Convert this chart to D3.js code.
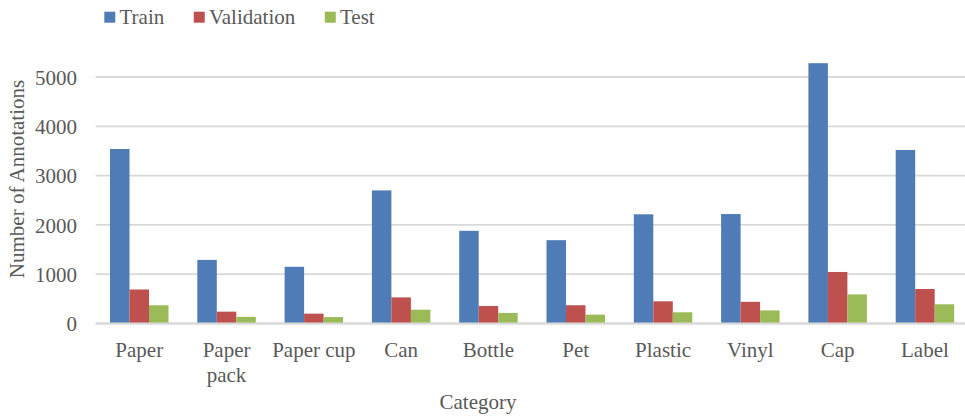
<!DOCTYPE html>
<html>
<head>
<meta charset="utf-8">
<script src="https://cdn.jsdelivr.net/npm/d3@7"></script>
<style>
  html, body { margin: 0; padding: 0; background: #fff; }
  svg { display: block; }
  text { font-family: "Liberation Serif", "Times New Roman", serif; fill: #595959; }
</style>
</head>
<body>
<svg id="chart" width="965" height="417"></svg>
<script>
// Annotation counts per category and split
const categories = ["Paper", "Paper pack", "Paper cup", "Can", "Bottle", "Pet", "Plastic", "Vinyl", "Cap", "Label"];
const seriesNames = ["Train", "Validation", "Test"];
const trainValues = [3540, 1290, 1150, 2700, 1880, 1690, 2215, 2220, 5280, 3520];
const validationValues = [690, 240, 200, 530, 355, 370, 450, 440, 1045, 700];
const testValues = [370, 135, 130, 280, 215, 180, 228, 265, 590, 390];
const yTicks = [0, 1000, 2000, 3000, 4000, 5000];
const colors = ["#4F7CB6", "#BE504D", "#9BBB59"];
const xTitle = "Category";
const yTitle = "Number of Annotations";

const seriesValues = [trainValues, validationValues, testValues];

const svg = d3.select("#chart");
const fontSize = 21;

const plotLeft = 95.6, plotRight = 968.6;
const x = d3.scaleBand()
  .domain(categories)
  .range([plotLeft, plotRight])
  .paddingInner(0.33)
  .paddingOuter(0.165);
const xSeries = d3.scaleBand()
  .domain(seriesNames)
  .range([0, x.bandwidth()]);
const y = d3.scaleLinear()
  .domain([0, 5000])
  .range([323.5, 77]);

// Horizontal gridlines
svg.append("g")
  .selectAll("line")
  .data(yTicks)
  .join("line")
  .attr("x1", plotLeft)
  .attr("x2", 965)
  .attr("y1", d => y(d))
  .attr("y2", d => y(d))
  .attr("stroke", "#d9d9d9")
  .attr("stroke-width", 1.8);

// Y axis labels
const yAxis = d3.axisLeft(y).tickValues(yTicks).tickSize(0).tickPadding(0).tickFormat(d3.format("d"));
const yg = svg.append("g").attr("transform", "translate(77,0)").call(yAxis);
yg.select(".domain").remove();
yg.selectAll("text")
  .attr("font-size", fontSize)
  .attr("font-family", "Liberation Serif, Times New Roman, serif")
  .attr("fill", "#595959")
  .attr("dy", "0.34em");

// Bars
const groups = svg.append("g")
  .selectAll("g")
  .data(categories)
  .join("g")
  .attr("transform", d => `translate(${x(d)},0)`);

groups.selectAll("rect")
  .data((c, i) => seriesNames.map((s, k) => ({ series: s, value: seriesValues[k][i], k })))
  .join("rect")
  .attr("x", d => xSeries(d.series))
  .attr("width", xSeries.bandwidth())
  .attr("y", d => y(d.value))
  .attr("height", d => y(0) - y(d.value))
  .attr("fill", d => colors[d.k]);

// Baseline
svg.append("line")
  .attr("x1", plotLeft).attr("x2", 965)
  .attr("y1", y(0)).attr("y2", y(0))
  .attr("stroke", "#d9d9d9").attr("stroke-width", 1.8);

// Category labels, wrapped to band width
const xAxis = d3.axisBottom(x).tickSize(0).tickPadding(0);
const xg = svg.append("g").attr("transform", "translate(0,0)").call(xAxis);
xg.select(".domain").remove();
xg.selectAll(".tick text").remove();
xg.selectAll(".tick").each(function(d) {
  const g = d3.select(this);
  const t = g.append("text")
    .attr("text-anchor", "middle")
    .attr("font-size", fontSize)
    .attr("fill", "#595959");
  const words = d.split(" ");
  const maxW = x.step();
  let lines = [];
  let line = [];
  const probe = t.append("tspan");
  words.forEach(w => {
    const trial = line.concat(w).join(" ");
    probe.text(trial);
    if (probe.node().getComputedTextLength() > maxW && line.length) {
      lines.push(line.join(" "));
      line = [w];
    } else {
      line.push(w);
    }
  });
  lines.push(line.join(" "));
  probe.remove();
  lines.forEach((ln, i) => {
    t.append("tspan").attr("x", 0).attr("y", 357 + i * 24.5).text(ln);
  });
});

// Axis titles
svg.append("text")
  .attr("x", 478).attr("y", 409)
  .attr("text-anchor", "middle")
  .attr("font-size", fontSize)
  .text(xTitle);

svg.append("text")
  .attr("transform", "translate(24,179) rotate(-90)")
  .attr("text-anchor", "middle")
  .attr("font-size", fontSize)
  .text(yTitle);

// Legend
const legend = svg.append("g");
let lx = 104.3;
seriesNames.forEach((s, k) => {
  legend.append("rect")
    .attr("x", lx).attr("y", 11.7)
    .attr("width", 11).attr("height", 11)
    .attr("fill", colors[k]);
  const t = legend.append("text")
    .attr("x", lx + 15.2).attr("y", 24)
    .attr("font-size", fontSize)
    .text(s);
  lx += 15.2 + t.node().getComputedTextLength() + 29.5;
});
</script>
</body>
</html>
